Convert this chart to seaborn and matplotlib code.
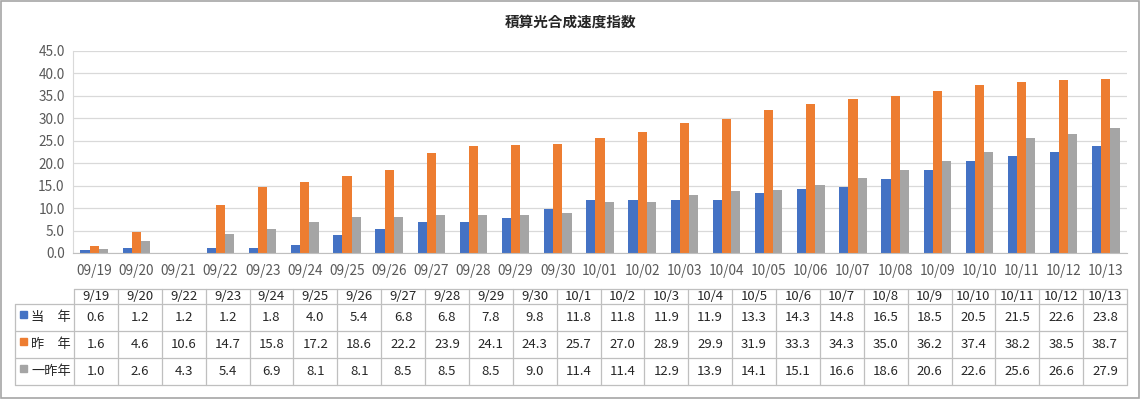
import numpy as np
import pandas as pd
import matplotlib
matplotlib.use("Agg")
import matplotlib.pyplot as plt
import seaborn as sns
from matplotlib.patches import Rectangle
from matplotlib.ticker import FormatStrFormatter, FixedLocator

axis_dates = ["09/19", "09/20", "09/21", "09/22", "09/23", "09/24", "09/25", "09/26",
              "09/27", "09/28", "09/29", "09/30", "10/01", "10/02", "10/03", "10/04",
              "10/05", "10/06", "10/07", "10/08", "10/09", "10/10", "10/11", "10/12", "10/13"]
table_dates = ["9/19", "9/20", "9/22", "9/23", "9/24", "9/25", "9/26", "9/27", "9/28",
               "9/29", "9/30", "10/1", "10/2", "10/3", "10/4", "10/5", "10/6", "10/7",
               "10/8", "10/9", "10/10", "10/11", "10/12", "10/13"]
series = ["当　年", "昨　年", "一昨年"]
this_year = [0.6, 1.2, 1.2, 1.2, 1.8, 4.0, 5.4, 6.8, 6.8, 7.8, 9.8, 11.8, 11.8, 11.9,
             11.9, 13.3, 14.3, 14.8, 16.5, 18.5, 20.5, 21.5, 22.6, 23.8]
last_year = [1.6, 4.6, 10.6, 14.7, 15.8, 17.2, 18.6, 22.2, 23.9, 24.1, 24.3, 25.7, 27.0,
             28.9, 29.9, 31.9, 33.3, 34.3, 35.0, 36.2, 37.4, 38.2, 38.5, 38.7]
two_years_ago = [1.0, 2.6, 4.3, 5.4, 6.9, 8.1, 8.1, 8.5, 8.5, 8.5, 9.0, 11.4, 11.4, 12.9,
                 13.9, 14.1, 15.1, 16.6, 18.6, 20.6, 22.6, 25.6, 26.6, 27.9]
colors = ["#4472C4", "#ED7D31", "#A5A5A5"]

# map table dates onto the chart's axis categories (09/21 has no data)
def to_axis(d):
    m, day = d.split("/")
    return f"{int(m):02d}/{int(day):02d}"

rows = []
for name, vals in zip(series, [this_year, last_year, two_years_ago]):
    for d, v in zip(table_dates, vals):
        rows.append({"date": to_axis(d), "series": name, "value": v})
df = pd.DataFrame(rows)

# --- figure ---
sns.set_style("white")
plt.rcParams["font.family"] = ["Noto Sans CJK JP", "DejaVu Sans"]

W, H = 1141, 400
fig = plt.figure(figsize=(W / 100, H / 100), dpi=100)

x0, x1, y_top, y_bot = 73, 1127, 51, 253
ax = fig.add_axes([x0 / W, 1 - y_bot / H, (x1 - x0) / W, (y_bot - y_top) / H])
sns.barplot(data=df, x="date", y="value", hue="series", order=axis_dates,
            hue_order=series, palette=colors, width=0.65, errorbar=None,
            legend=False, ax=ax, saturation=1, linewidth=0)

ax.set_ylim(0, 45)
ax.set_xlim(-0.5, len(axis_dates) - 0.5)
ax.set_yticks(np.arange(0, 46, 5))
ax.yaxis.set_major_formatter(FormatStrFormatter("%.1f"))
ax.grid(axis="y", color="#D9D9D9", linewidth=0.9)
ax.set_axisbelow(True)
ax.set_xlabel("")
ax.set_ylabel("")
for s in ["top", "right"]:
    ax.spines[s].set_visible(False)
ax.spines["left"].set_color("#D9D9D9")
ax.spines["bottom"].set_color("#BFBFBF")
ax.tick_params(axis="y", length=0, pad=6, labelsize=9.8, labelcolor="#595959")
ax.tick_params(axis="x", which="major", length=0, pad=8, labelsize=9.8, labelcolor="#595959")
ax.xaxis.set_minor_locator(FixedLocator(np.arange(-0.5, len(axis_dates), 1)))
ax.tick_params(axis="x", which="minor", length=5, color="#BFBFBF", width=0.9)

fig.text(0.5, 1 - 22 / H, "積算光合成速度指数", ha="center", va="center",
         fontsize=10.5, fontweight="bold", color="#262626")

# --- data table below the chart ---
tab = fig.add_axes([0, 0, 1, 1])
tab.set_xlim(0, W)
tab.set_ylim(H, 0)
tab.axis("off")

line_c = "#BFBFBF"
lab_left, col_left = 15, 74
cw = (x1 - col_left) / len(table_dates)
ys = [289, 304, 331, 358, 385]
tab.plot([col_left, x1], [ys[0], ys[0]], color=line_c, lw=0.9)
for y in ys[1:]:
    tab.plot([lab_left, x1], [y, y], color=line_c, lw=0.9)
tab.plot([lab_left, lab_left], [ys[1], ys[-1]], color=line_c, lw=0.9)
for i in range(len(table_dates) + 1):
    xx = col_left + i * cw
    tab.plot([xx, xx], [ys[0], ys[-1]], color=line_c, lw=0.9)

for i, d in enumerate(table_dates):
    tab.text(col_left + (i + 0.5) * cw, (ys[0] + ys[1]) / 2, d, ha="center",
             va="center", fontsize=9.5, color="#262626")

for r, (name, vals, c) in enumerate(zip(series, [this_year, last_year, two_years_ago], colors)):
    yc = (ys[r + 1] + ys[r + 2]) / 2
    tab.add_patch(Rectangle((20, yc - 7), 7, 7, color=c))
    tab.text(51, yc, name, ha="center", va="center", fontsize=9.5, color="#262626")
    for i, v in enumerate(vals):
        tab.text(col_left + (i + 0.5) * cw, yc, f"{v:.1f}", ha="center",
                 va="center", fontsize=9.5, color="#262626")

# outer frame
tab.add_patch(Rectangle((1, 1), W - 3, H - 3, fill=False, edgecolor="#A6A6A6", lw=1.2))

fig.savefig("out.png", dpi=100)
